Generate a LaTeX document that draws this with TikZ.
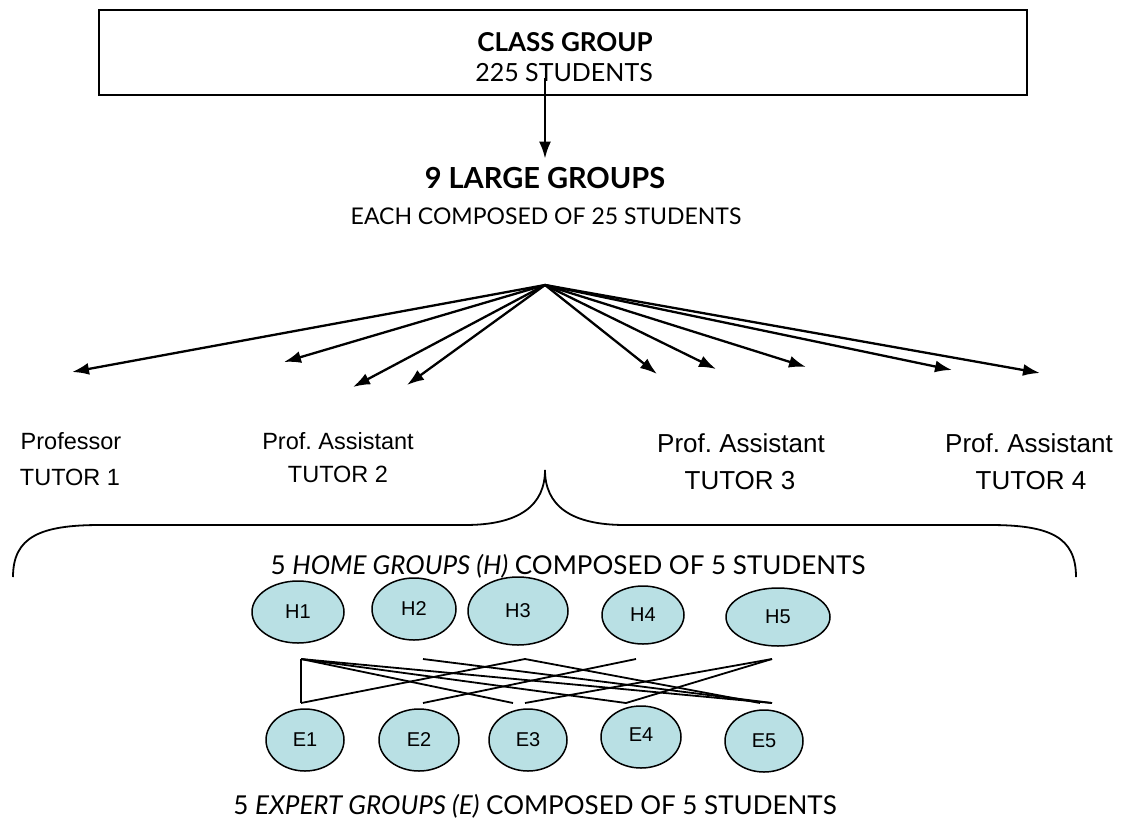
\documentclass[tikz,border=0pt]{standalone}
\usepackage{fontspec}
\setmainfont{Lato}
\newfontfamily\arialfont{Liberation Sans}
\usetikzlibrary{arrows.meta,shapes.geometric,positioning}
\definecolor{bleugroupe}{RGB}{185,224,228}

\begin{document}
\begin{tikzpicture}[x=1pt,y=-1pt]
%styles des fleches, textes et groupes
\tikzset{fleche/.style={line width=2.3pt,-{Latex[length=17pt,width=12pt]}},
titre/.style={inner sep=0pt,anchor=base,font=\fontsize{26}{30}\selectfont},
tuteur/.style={inner sep=0pt,anchor=base,font=\arialfont\fontsize{23.5}{28}\selectfont},
grandtuteur/.style={tuteur,font=\arialfont\fontsize{26}{30}\selectfont},
groupe/.style={ellipse,draw,line width=1.5pt,fill=bleugroupe,inner sep=0pt,font=\arialfont\fontsize{20}{24}\selectfont},
lien/.style={line width=1.8pt}}
\useasboundingbox (0,0) rectangle (1129,825);

\draw[line width=2pt] (99,10) rectangle (1027,95);
\node[titre] (classe) at (565,51) {\bfseries CLASS GROUP};
\node[titre,font=\fontsize{25}{30}\selectfont] (effectif) at (564,81) {225 STUDENTS};
\coordinate (depart) at (545,78);
\node[titre,font=\fontsize{29}{34}\selectfont] (grand) at (545,188) {\bfseries 9 LARGE GROUPS};
\node[titre,font=\fontsize{23}{28}\selectfont] (chacun) at (546,224) {EACH COMPOSED OF 25 STUDENTS};
\draw[fleche] (depart) -- ([yshift=8pt]grand.north);

%eventail des fleches vers les tuteurs
\coordinate (centre) at (545,285);
\coordinate (pointe1) at (72,372);
\coordinate (pointe2) at (284,362);
\coordinate (pointe3) at (353,387);
\coordinate (pointe4) at (407,385);
\coordinate (pointe5) at (657,374);
\coordinate (pointe6) at (716,369);
\coordinate (pointe7) at (806,367);
\coordinate (pointe8) at (952,370);
\coordinate (pointe9) at (1040,373);
\foreach \i in {1,...,9}
  \draw[fleche] (centre) -- (pointe\i);

\node[tuteur] (prof) at (71,449) {Professor};
\node[tuteur] (tuteur1) at (70,485) {TUTOR 1};
\node[tuteur] (assistant2) at (338,449) {Prof.\ Assistant};
\node[tuteur] (tuteur2) at (338,482) {TUTOR 2};
\node[grandtuteur] (assistant3) at (741,452) {Prof.\ Assistant};
\node[grandtuteur] (tuteur3) at (740,489) {TUTOR 3};
\node[grandtuteur] (assistant4) at (1029,452) {Prof.\ Assistant};
\node[grandtuteur] (tuteur4) at (1031,489) {TUTOR 4};

%accolade
\draw[line width=1.8pt] (13,577) .. controls (13,537) and (40,525) .. (100,525)
  -- (465,525) .. controls (520,525) and (545,505) .. (545,470)
  .. controls (545,505) and (570,525) .. (625,525)
  -- (990,525) .. controls (1050,525) and (1076,537) .. (1076,577);

\node[titre] (maison) at (568,574) {5 \textit{HOME GROUPS (H)} COMPOSED OF 5 STUDENTS};

%groupes maison et groupes experts
\node[groupe,minimum width=92pt,minimum height=62pt] (H1) at (298,612) {H1};
\node[groupe,minimum width=84pt,minimum height=62pt] (H2) at (414,609) {H2};
\node[groupe,minimum width=100pt,minimum height=68pt] (H3) at (518,611) {H3};
\node[groupe,minimum width=82pt,minimum height=58pt] (H4) at (643,615) {H4};
\node[groupe,minimum width=104pt,minimum height=58pt] (H5) at (778,617) {\raisebox{-5pt}{H5}};

\node[groupe,minimum width=78pt,minimum height=62pt] (E1) at (305,740) {E1};
\node[groupe,minimum width=80pt,minimum height=62pt] (E2) at (419,740) {E2};
\node[groupe,minimum width=78pt,minimum height=62pt] (E3) at (528,740) {E3};
\node[groupe,minimum width=80pt,minimum height=62pt] (E4) at (641,737) {\raisebox{5pt}{E4}};
\node[groupe,minimum width=78pt,minimum height=62pt] (E5) at (764,741) {E5};

\coordinate (h1) at (301,659);
\coordinate (h2) at (423,659);
\coordinate (h3) at (525,659);
\coordinate (h4) at (636,659);
\coordinate (h5) at (772,659);
\coordinate (e1) at (301,703);
\coordinate (e2) at (423,703);
\coordinate (e3a) at (513,703);
\coordinate (e3b) at (525,703);
\coordinate (e4) at (626,703);
\coordinate (e5a) at (760,703);
\coordinate (e5b) at (772,703);
\draw[lien] (h1) -- (e1);
\draw[lien] (h1) -- (e3a);
\draw[lien] (h1) -- (e4);
\draw[lien] (h1) -- (e5b);
\draw[lien] (h2) -- (e5b);
\draw[lien] (h3) -- (e1);
\draw[lien] (h3) -- (e5a);
\draw[lien] (h4) -- (e2);
\draw[lien] (h5) -- (e3b);
\draw[lien] (h5) -- (e4);

\node[titre] (expert) at (535,814) {5 \textit{EXPERT GROUPS (E)} COMPOSED OF 5 STUDENTS};
\end{tikzpicture}
\end{document}
